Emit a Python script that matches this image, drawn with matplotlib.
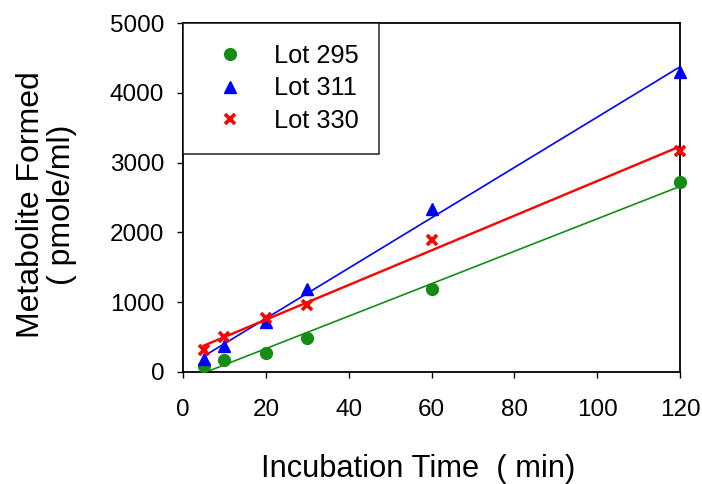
import numpy as np
import matplotlib
matplotlib.use("Agg")
import matplotlib.pyplot as plt

plt.rcParams['font.family'] = ['Liberation Sans', 'DejaVu Sans']

time_min = [5, 10, 20, 30, 60, 120]
lot295 = [80, 170, 275, 485, 1185, 2720]
lot311 = [185, 375, 715, 1185, 2340, 4305]
lot330 = [315, 505, 770, 955, 1885, 3170]
labels = ["Lot 295", "Lot 311", "Lot 330"]
xticks = [0, 20, 40, 60, 80, 100, 120]
yticks = [0, 1000, 2000, 3000, 4000, 5000]

fig = plt.figure(figsize=(7.02, 4.84), dpi=100)
ax = fig.add_axes([183/702, 1-372/484, (680-183)/702, (372-23)/484])

series = [
    (lot295, "#168c16", "o", dict(ms=8.5), 1.2),
    (lot311, "#0000ff", "^", dict(ms=8.5), 1.2),
    (lot330, "#ff0000", "x", dict(ms=7.5, mew=2.6), 1.7),
]
x = np.array(time_min, dtype=float)
handles = []
for (vals, col, mk, mkw, lw), lab in zip(series, labels):
    y = np.array(vals, dtype=float)
    k, b = np.polyfit(x, y, 1)
    xs = np.array([x.min(), x.max()])
    ax.plot(xs, k*xs + b, color=col, lw=lw, zorder=2)
    h, = ax.plot(x, y, linestyle='none', marker=mk, color=col, label=lab,
                 zorder=3, clip_on=False, **mkw)
    handles.append(h)

ax.set_xlim(0, 120)
ax.set_ylim(0, 5000)
ax.set_xticks(xticks)
ax.set_yticks(yticks)
ax.tick_params(axis='both', direction='out', length=4.5, width=1, labelsize=17.5,
               colors='black')
ax.tick_params(axis='x', pad=15)
ax.tick_params(axis='y', pad=9)
for s in ax.spines.values():
    s.set_linewidth(1.3)

ax.set_xlabel("Incubation Time  ( min)", fontsize=22.2)
ax.xaxis.set_label_coords((418-183)/497, -(454-372)/349)
ax.set_ylabel("Metabolite Formed\n( pmole/ml)", fontsize=23, linespacing=1.05)
ax.yaxis.set_label_coords((77-183)/497, 0.48)

leg = ax.legend(handles=handles, loc='upper left', bbox_to_anchor=(0, 1),
                borderaxespad=0, fontsize=18.3, frameon=True, fancybox=False,
                edgecolor='black', borderpad=0.81, handlelength=2.07,
                handletextpad=0.7, labelspacing=0.35, numpoints=1)
leg.get_frame().set_linewidth(1.2)
leg.set_zorder(5)

fig.savefig("out.png", dpi=100)
